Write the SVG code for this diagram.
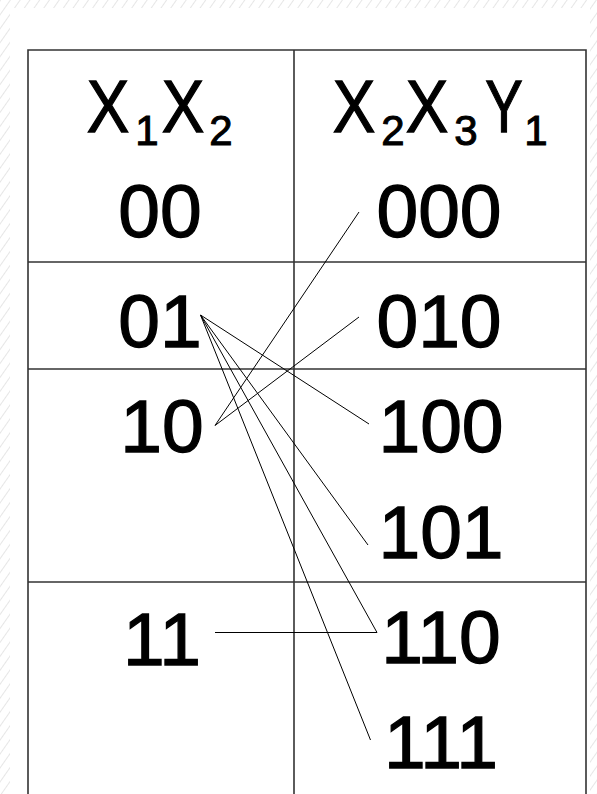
<svg xmlns="http://www.w3.org/2000/svg" width="597" height="794" viewBox="0 0 597 794">
  <defs>
    <pattern id="hatch" width="8" height="8" patternUnits="userSpaceOnUse" patternTransform="rotate(35)">
      <line x1="0" y1="0" x2="0" y2="8" stroke="#e6e6e6" stroke-width="2"/>
    </pattern>
  </defs>
  <style>
    .grid { stroke: #333; stroke-width: 1.6; fill: none; }
    .t { font-family: "Liberation Sans", Arial, sans-serif; font-size: 75px; fill: #000; stroke: #000; stroke-width: 1.3; text-anchor: middle; }
    .s { font-size: 42px; stroke-width: 1; }
    .c { stroke: #000; stroke-width: 1; fill: none; }
  </style>
  <rect x="0" y="0" width="597" height="794" fill="#fff"/>
  <rect x="0" y="0" width="597" height="794" fill="url(#hatch)"/>
  <rect x="10" y="8" width="580" height="786" fill="#fff"/>

  <g id="table">
    <polyline class="grid" points="28,794 28,50 586,50 586,794"/>
    <line class="grid" x1="294" y1="50" x2="294" y2="794"/>
    <line class="grid" x1="28" y1="262" x2="586" y2="262"/>
    <line class="grid" x1="28" y1="369" x2="586" y2="369"/>
    <line class="grid" x1="28" y1="582" x2="586" y2="582"/>
  </g>

  <g id="header-left">
    <text class="t" transform="translate(108,132) scale(0.85,1)">X</text>
    <text class="t s" x="147" y="145">1</text>
    <text class="t" transform="translate(183,132) scale(0.85,1)">X</text>
    <text class="t s" x="221" y="145">2</text>
  </g>
  <g id="header-right">
    <text class="t" transform="translate(354,132) scale(0.85,1)">X</text>
    <text class="t s" x="393" y="145">2</text>
    <text class="t" transform="translate(427,132) scale(0.85,1)">X</text>
    <text class="t s" x="466" y="145">3</text>
    <text class="t" transform="translate(504,132) scale(0.75,1)">Y</text>
    <text class="t s" x="536" y="145">1</text>
  </g>

  <g id="n-00"><text class="t" x="160" y="237">00</text></g>
  <g id="n-01"><text class="t" x="160" y="347">01</text></g>
  <g id="n-10"><text class="t" x="162" y="452">10</text></g>
  <g id="n-11"><text class="t" x="162" y="665">11</text></g>

  <g id="n-000"><text class="t" x="439" y="237">000</text></g>
  <g id="n-010"><text class="t" x="439" y="347">010</text></g>
  <g id="n-100"><text class="t" x="441" y="452">100</text></g>
  <g id="n-101"><text class="t" x="441" y="558">101</text></g>
  <g id="n-110"><text class="t" x="441" y="663">110</text></g>
  <g id="n-111"><text class="t" x="441" y="768">111</text></g>

  <g id="connectors">
    <line class="c" x1="200.5" y1="315" x2="369" y2="424"/>
    <line class="c" x1="200.5" y1="315" x2="368" y2="545"/>
    <line class="c" x1="200.5" y1="315" x2="377" y2="632.5"/>
    <line class="c" x1="200.5" y1="315" x2="370.5" y2="740"/>
    <line class="c" x1="215" y1="425.5" x2="359" y2="212"/>
    <line class="c" x1="215" y1="425.5" x2="359" y2="317"/>
    <line class="c" x1="215" y1="632.5" x2="377" y2="632.5"/>
  </g>
</svg>
